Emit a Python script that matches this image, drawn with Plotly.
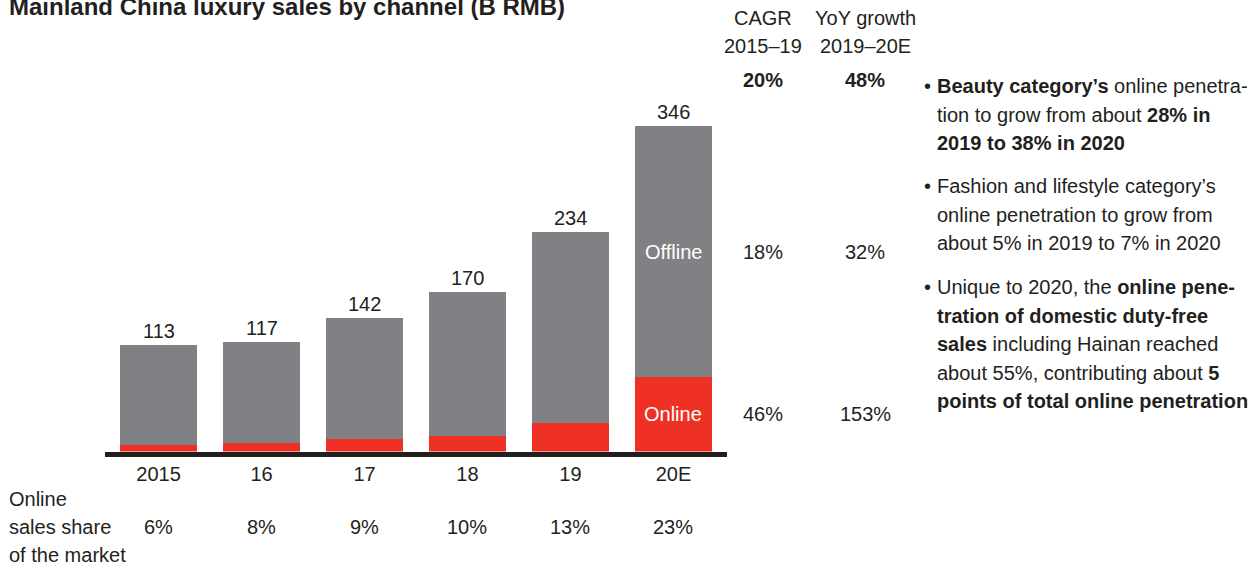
import plotly.graph_objects as go

# ---- data ----
years = ["2015", "16", "17", "18", "19", "20E"]
totals = [113, 117, 142, 170, 234, 346]
online = [7, 9, 13, 17, 30, 79]
offline = [106, 108, 129, 153, 204, 267]
online_share = ["6%", "8%", "9%", "10%", "13%", "23%"]
share_label = ["Online", "sales share", "of the market"]
cagr_header = ["CAGR", "2015–19"]
yoy_header = ["YoY growth", "2019–20E"]
cagr_vals = {"total": "20%", "offline": "18%", "online": "46%"}
yoy_vals = {"total": "48%", "offline": "32%", "online": "153%"}
title = "Mainland China luxury sales by channel (B RMB)"
bullet_lines = [
    ["<b>Beauty category’s</b> online penetra-", "tion to grow from about <b>28% in</b>", "<b>2019 to 38% in 2020</b>"],
    ["Fashion and lifestyle category’s", "online penetration to grow from", "about 5% in 2019 to 7% in 2020"],
    ["Unique to 2020, the <b>online pene-</b>", "<b>tration of domestic duty-free</b>", "<b>sales</b> including Hainan reached",
     "about 55%, contributing about <b>5</b>", "<b>points of total online penetration</b>"],
]

W, H = 1257, 566
FONT = "Arial, Liberation Sans, sans-serif"
TXT = "#231f20"
GRAY = "#808184"
RED = "#ee3124"
FS = 20

def px(x):
    return x / W

def py(y):
    return 1 - y / H

fig = go.Figure()
fig.add_trace(go.Bar(x=years, y=online, marker=dict(color=RED, line=dict(width=0)), width=0.75,
                     hoverinfo="skip"))
fig.add_trace(go.Bar(x=years, y=offline, marker=dict(color=GRAY, line=dict(width=0)), width=0.75,
                     hoverinfo="skip"))

ann = []

def A(**kw):
    kw.setdefault("showarrow", False)
    kw.setdefault("xanchor", "center")
    kw.setdefault("yanchor", "middle")
    kw.setdefault("font", dict(size=FS, color=TXT))
    ann.append(kw)

# totals above bars (category index positions on the category axis)
for i, t in enumerate(totals):
    A(x=i, y=t, xref="x", yref="y", text=str(t), yanchor="bottom", yshift=1)

# labels inside last bar
li = len(years) - 1
A(x=li, y=online[-1] + offline[-1] / 2, xref="x", yref="y", text="Offline", font=dict(size=FS, color="white"))
A(x=li, y=online[-1] / 2, xref="x", yref="y", text="Online", font=dict(size=FS, color="white"))

# growth columns
cx1, cx2 = 763, 865
for i, (a, b) in enumerate(zip(cagr_header, yoy_header)):
    yy = 18 + i * 28
    A(x=px(cx1), y=py(yy), xref="paper", yref="paper", text=a)
    A(x=px(cx2), y=py(yy), xref="paper", yref="paper", text=b)
A(x=px(cx1), y=py(80), xref="paper", yref="paper", text="<b>" + cagr_vals["total"] + "</b>")
A(x=px(cx2), y=py(80), xref="paper", yref="paper", text="<b>" + yoy_vals["total"] + "</b>")
for key, yv in (("offline", online[-1] + offline[-1] / 2), ("online", online[-1] / 2)):
    A(x=px(cx1), y=yv, xref="paper", yref="y", text=cagr_vals[key])
    A(x=px(cx2), y=yv, xref="paper", yref="y", text=yoy_vals[key])

# online share row
for j, line in enumerate(share_label):
    A(x=px(7), y=py(499 + j * 28), xref="paper", yref="paper", xanchor="left", text=line)
for i, s in enumerate(online_share):
    A(x=i, y=py(527), xref="x", yref="paper", text=s)

# title
A(x=px(7), y=py(7), xref="paper", yref="paper", xanchor="left", text="<b>" + title + "</b>",
  font=dict(size=24, color=TXT))

# bullets
starts = [86, 186, 287]
for block, y0 in zip(bullet_lines, starts):
    A(x=px(922), y=py(y0), xref="paper", yref="paper", xanchor="left", text="•")
    for j, line in enumerate(block):
        A(x=px(935), y=py(y0 + j * 28.6), xref="paper", yref="paper", xanchor="left", text=line)

fig.update_layout(
    width=W, height=H, margin=dict(l=0, r=0, t=0, b=0),
    paper_bgcolor="white", plot_bgcolor="white",
    barmode="stack", showlegend=False,
    font=dict(family=FONT, color=TXT),
    annotations=ann,
    xaxis=dict(domain=[px(105), px(727)], range=[-0.52, 5.52], type="category",
               showline=True, linecolor="#231f20", linewidth=5, showgrid=False, zeroline=False,
               ticks="", tickfont=dict(size=FS, color=TXT), fixedrange=True),
    yaxis=dict(domain=[py(451.5), py(75.5)], range=[0, 400], visible=False, fixedrange=True),
)

fig.write_html("out.html", config={"displayModeBar": False},
               post_script="document.body.style.margin='0';")
